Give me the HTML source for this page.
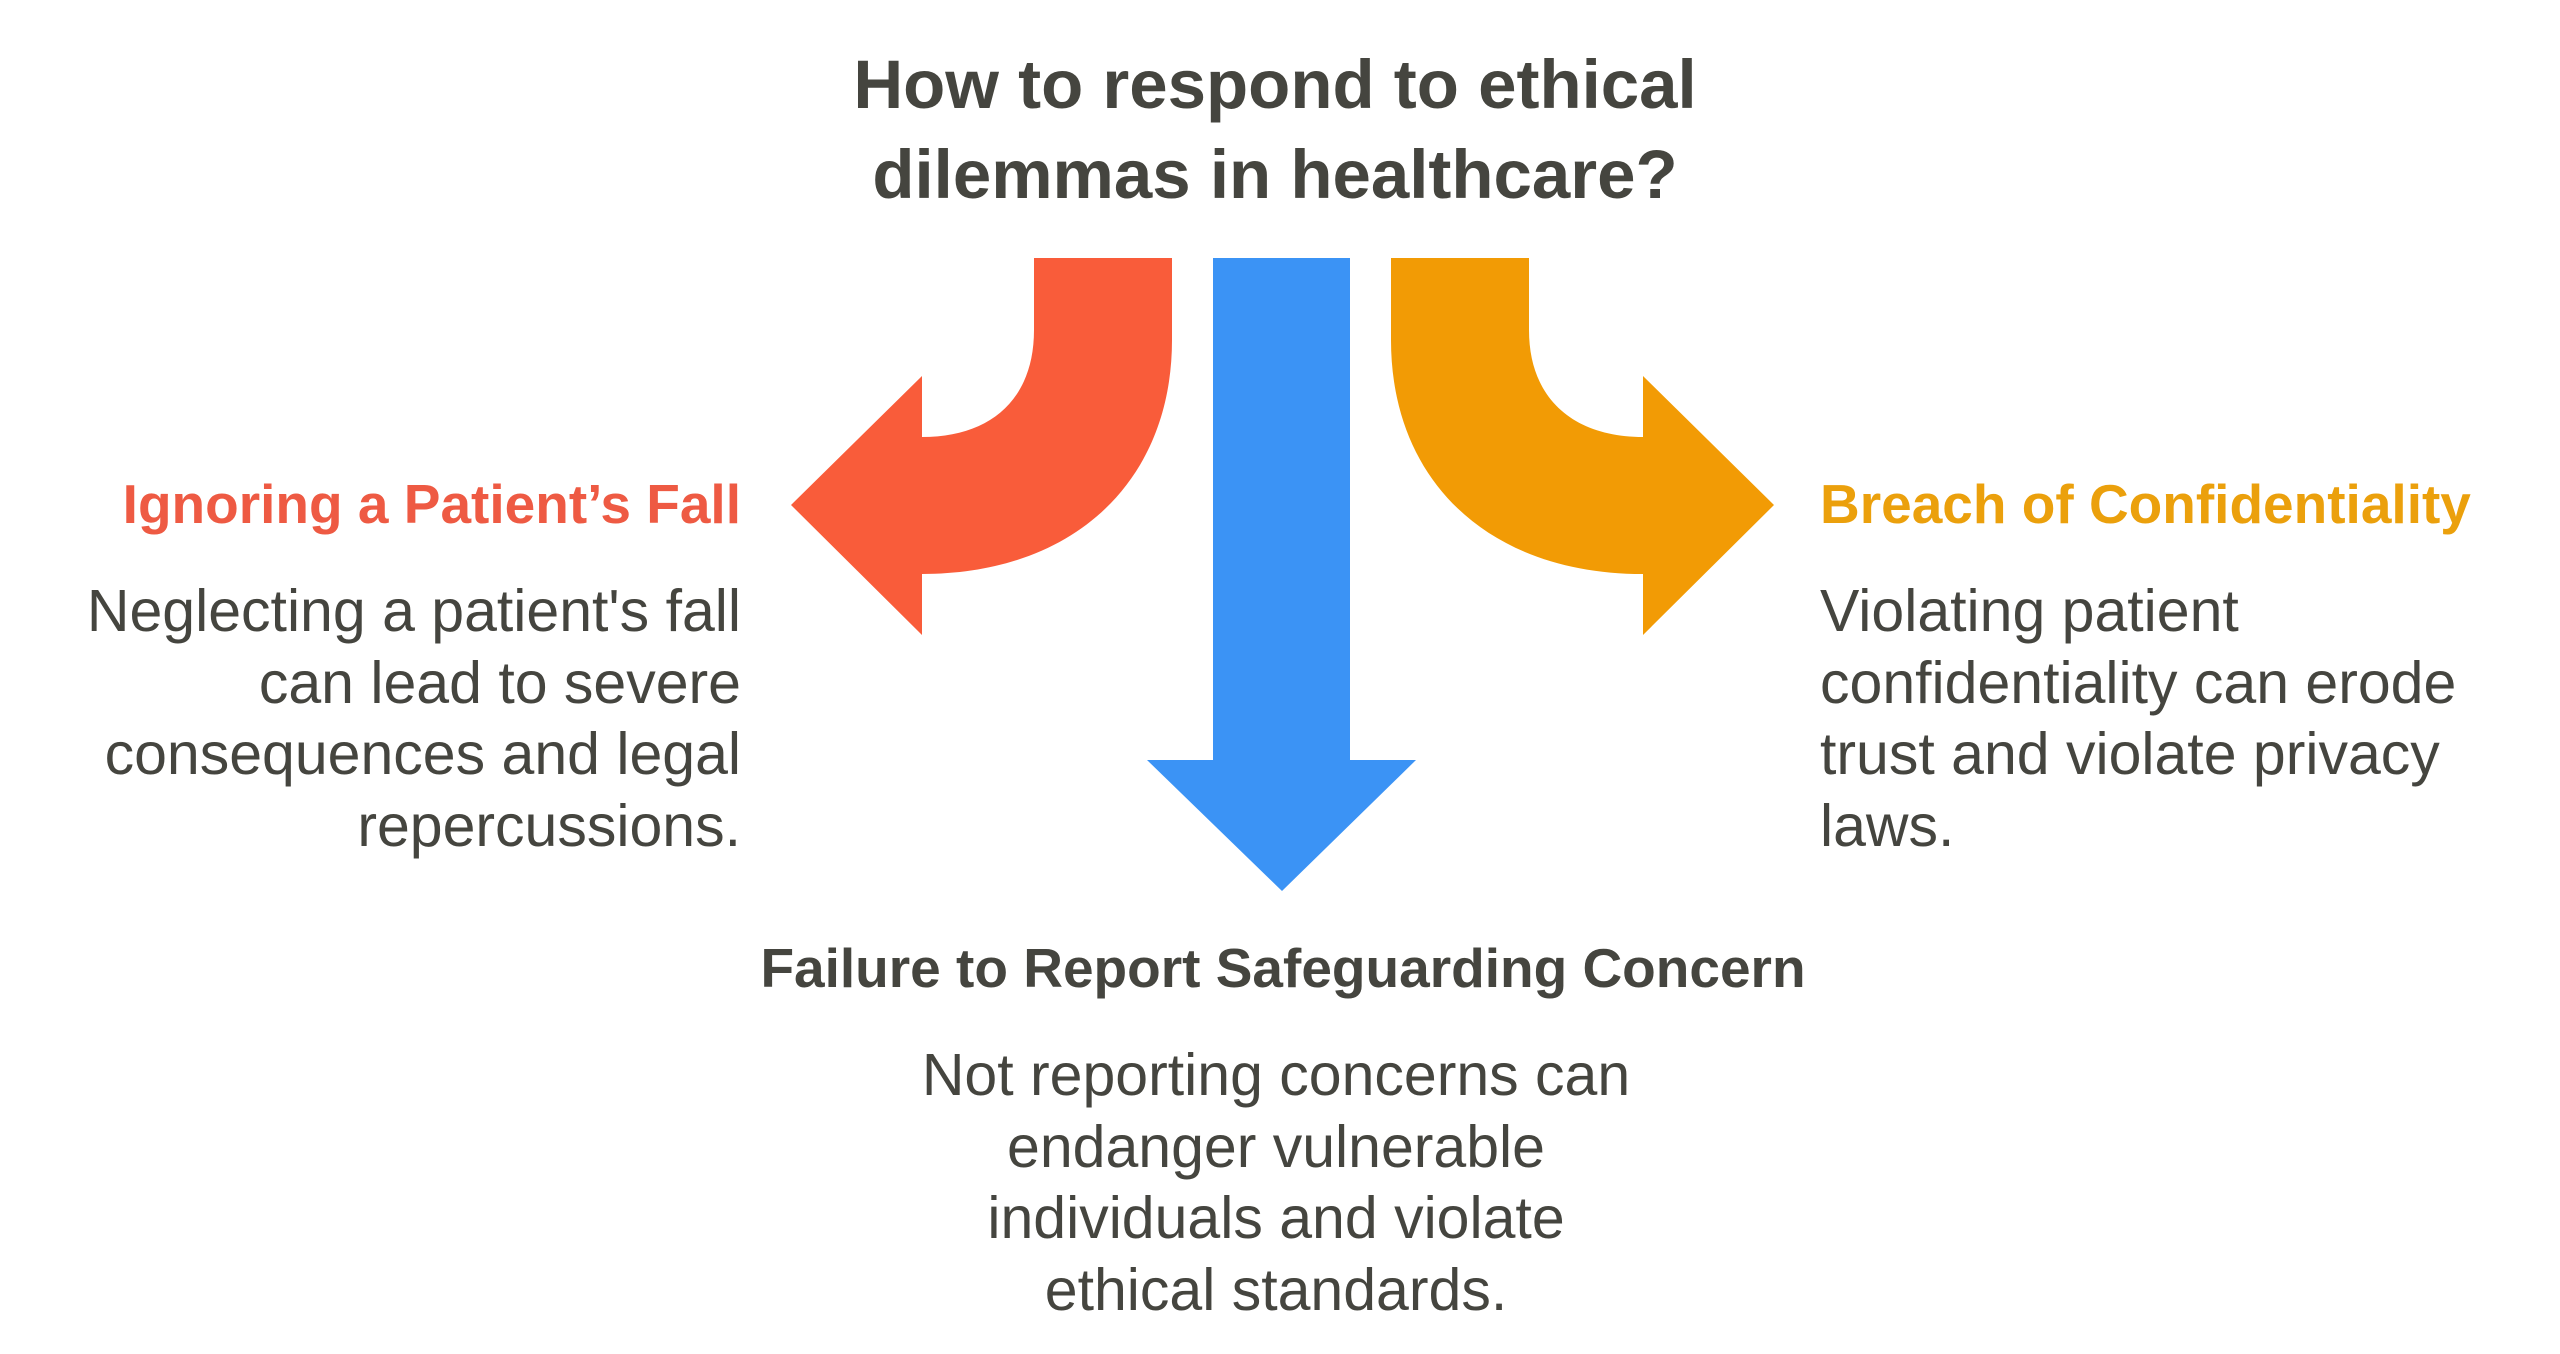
<!DOCTYPE html>
<html><head><meta charset="utf-8"><style>
html,body{margin:0;padding:0;background:#fff;}
body{width:2560px;height:1354px;position:relative;overflow:hidden;font-family:"Liberation Sans",Arial,sans-serif;color:#45453f;}
.t{position:absolute;white-space:nowrap;}
.title{left:0;width:2560px;text-align:center;font-weight:bold;font-size:69px;line-height:90px;top:40px;left:-5px;}
.h{font-weight:bold;font-size:55px;line-height:60px;}
.b{font-size:59px;line-height:71.5px;}
</style></head><body>
<svg width="2560" height="1354" style="position:absolute;left:0;top:0">
<g transform="translate(-5,0)">
<path d="M1039,258 H1177 V340 C1177,480 1080,574 927,574 V635 L796,505 L927,376 V437 C995,437 1039,400 1039,330 Z" fill="#F95C3A"/>
<path d="M1218,258 H1355 V760 H1421 L1287,891 L1152,760 H1218 Z" fill="#3B93F5"/>
<path d="M1534,258 H1396 V340 C1396,480 1493,574 1648,574 V635 L1779,505 L1648,376 V437 C1580,437 1534,400 1534,330 Z" fill="#F29B05"/>
</g>
</svg>
<div class="t title">How to respond to ethical<br>dilemmas in healthcare?</div>
<div class="t h" style="right:1819px;top:474px;color:#EE5A43;text-align:right">Ignoring a Patient’s Fall</div>
<div class="t b" style="right:1819px;top:576px;text-align:right">Neglecting a patient's fall<br>can lead to severe<br>consequences and legal<br>repercussions.</div>
<div class="t h" style="left:1820px;top:474px;color:#EBA00C">Breach of Confidentiality</div>
<div class="t b" style="left:1820px;top:576px">Violating patient<br>confidentiality can erode<br>trust and violate privacy<br>laws.</div>
<div class="t h" style="left:0;width:2566px;text-align:center;top:938px">Failure to Report Safeguarding Concern</div>
<div class="t b" style="left:0;width:2552px;text-align:center;top:1040px">Not reporting concerns can<br>endanger vulnerable<br>individuals and violate<br>ethical standards.</div>
</body></html>
